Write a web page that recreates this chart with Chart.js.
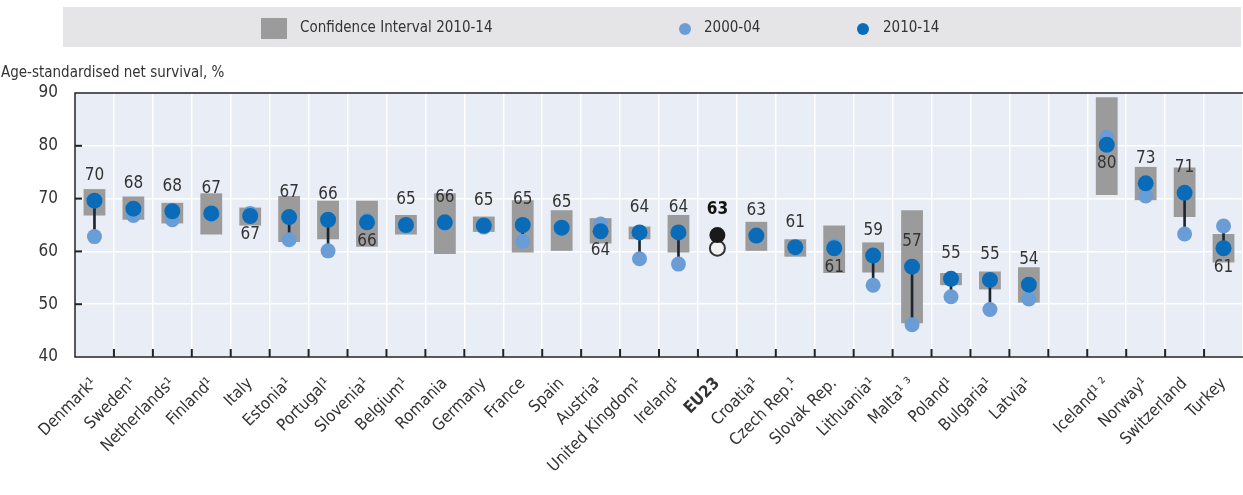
<!DOCTYPE html>
<html>
<head>
<meta charset="utf-8">
<script src="https://cdn.jsdelivr.net/npm/chart.js@4/dist/chart.umd.min.js"></script>
<style>
  html, body { margin: 0; padding: 0; background: #ffffff; }
  #wrap { position: relative; width: 1243px; height: 495px; }
  canvas { display: block; }
</style>
</head>
<body>
<div id="wrap"><canvas id="c" width="1243" height="495"></canvas></div>
<script>
const categories = [
  'Denmark¹', 'Sweden¹', 'Netherlands¹', 'Finland¹', 'Italy', 'Estonia¹', 'Portugal¹',
  'Slovenia¹', 'Belgium¹', 'Romania', 'Germany', 'France', 'Spain', 'Austria¹',
  'United Kingdom¹', 'Ireland¹', 'EU23', 'Croatia¹', 'Czech Rep.¹', 'Slovak Rep.',
  'Lithuania¹', 'Malta¹ ³', 'Poland¹', 'Bulgaria¹', 'Latvia¹', '',
  'Iceland¹ ²', 'Norway¹', 'Switzerland', 'Turkey'
];
const survival2010 = [
  69.6, 68.1, 67.6, 67.2, 66.7, 66.5, 66.0, 65.5, 65.0, 65.5, 64.9, 65.0, 64.5, 63.8,
  63.6, 63.6, 63.1, 63.0, 60.8, 60.6, 59.2, 57.1, 54.8, 54.6, 53.7, null,
  80.2, 72.9, 71.1, 60.6
];
const survival2000 = [
  62.8, 66.8, 66.0, 67.0, 67.2, 62.2, 60.1, 65.9, 64.8, 65.3, 64.6, 61.9, 64.3, 65.2,
  58.6, 57.6, 60.6, 62.8, 60.6, 61.0, 53.6, 46.1, 51.4, 49.0, 51.0, null,
  81.6, 70.5, 63.3, 64.8
];
const ciLow = [
  66.8, 66.0, 65.3, 63.2, 64.9, 61.8, 62.3, 60.9, 63.2, 59.5, 63.7, 59.8, 60.1, 61.5,
  62.3, 59.8, null, 60.1, 59.0, 55.9, 56.0, 46.4, 53.6, 52.8, 50.3, null,
  70.7, 69.7, 66.5, 57.9
];
const ciHigh = [
  71.8, 70.4, 69.2, 71.0, 68.3, 70.5, 69.6, 69.6, 66.9, 71.0, 66.6, 69.7, 67.8, 66.3,
  64.7, 66.9, null, 65.6, 62.3, 64.9, 61.7, 67.8, 55.9, 56.2, 57.0, null,
  89.2, 76.0, 75.9, 63.3
];
const yTicks = [40, 50, 60, 70, 80, 90];
const aggregateLabel = 'EU23';

const FONT = "'Liberation Sans Narrow', 'Arial Narrow', 'DejaVu Sans Condensed', 'Roboto Condensed', 'Liberation Sans', sans-serif";
const TXT = '#333333';
const DARK_BLUE = '#0a6cb8';
const LIGHT_BLUE = '#6a9dd6';
const CI_GREY = '#9b9b9b';

const isAgg = i => categories[i] === aggregateLabel;

const ciData = categories.map((c, i) => (ciLow[i] == null ? null : [ciLow[i], ciHigh[i]]));
const linkData = categories.map((c, i) => (survival2010[i] == null || survival2000[i] == null) ? null :
  [Math.min(survival2010[i], survival2000[i]), Math.max(survival2010[i], survival2000[i])]);

const backgroundPlugin = {
  id: 'bgAndLegend',
  beforeDraw(chart) {
    const { ctx, chartArea: a } = chart;
    ctx.save();
    ctx.fillStyle = '#ffffff';
    ctx.fillRect(0, 0, chart.width, chart.height);
    // plot background
    ctx.fillStyle = '#e9edf5';
    ctx.fillRect(a.left, a.top, a.right - a.left, a.bottom - a.top);
    // legend band
    ctx.fillStyle = '#e5e5e7';
    ctx.fillRect(63, 7, chart.width - 63 - 2, 40);
    ctx.font = "15px " + FONT;
    ctx.textBaseline = 'middle';
    ctx.textAlign = 'left';
    ctx.fillStyle = CI_GREY;
    ctx.fillRect(261, 18, 26, 21);
    ctx.fillStyle = TXT;
    ctx.fillText('Confidence Interval 2010-14', 300, 28);
    ctx.fillStyle = LIGHT_BLUE;
    ctx.beginPath(); ctx.arc(685, 29, 6, 0, Math.PI * 2); ctx.fill();
    ctx.fillStyle = TXT;
    ctx.fillText('2000-04', 704, 28);
    ctx.fillStyle = DARK_BLUE;
    ctx.beginPath(); ctx.arc(863, 29, 6, 0, Math.PI * 2); ctx.fill();
    ctx.fillStyle = TXT;
    ctx.fillText('2010-14', 883, 28);
    // axis title
    ctx.fillText('Age-standardised net survival, %', 1, 73);
    ctx.restore();
  },
  beforeDatasetsDraw(chart) {
    const { ctx, chartArea: a, scales } = chart;
    ctx.save();
    ctx.strokeStyle = '#222222';
    ctx.lineWidth = 1.5;
    ctx.beginPath();
    ctx.moveTo(chart.width, a.top); ctx.lineTo(a.left, a.top);
    ctx.lineTo(a.left, a.bottom); ctx.lineTo(a.right, a.bottom);
    ctx.stroke();
    // y tick marks inside
    ctx.lineWidth = 2;
    yTicks.slice(1, -1).forEach(v => {
      const y = scales.y.getPixelForValue(v);
      ctx.beginPath(); ctx.moveTo(a.left, y); ctx.lineTo(a.left + 7, y); ctx.stroke();
    });
    // x tick marks at category boundaries
    const x = scales.x;
    for (let i = 1; i < categories.length; i++) {
      const px = (x.getPixelForValue(i - 1) + x.getPixelForValue(i)) / 2;
      ctx.beginPath(); ctx.moveTo(px, a.bottom); ctx.lineTo(px, a.bottom - 8); ctx.stroke();
    }
    ctx.restore();
  },
  afterDatasetsDraw(chart) {
    const { ctx, scales } = chart;
    ctx.save();
    ctx.textAlign = 'center';
    ctx.textBaseline = 'middle';
    survival2010.forEach((v, i) => {
      if (v == null) return;
      const px = scales.x.getPixelForValue(i);
      const py = scales.y.getPixelForValue(v);
      const below = survival2000[i] != null && survival2000[i] > v;
      const ty = below ? py + 19 : py - 25;
      ctx.font = (isAgg(i) ? 'bold ' : '') + '17px ' + FONT;
      ctx.fillStyle = isAgg(i) ? '#111111' : TXT;
      ctx.fillText(String(Math.round(v)), px, ty);
    });
    ctx.restore();
  }
};

new Chart(document.getElementById('c'), {
  type: 'bar',
  data: {
    labels: categories,
    datasets: [
      {
        type: 'bar', label: 'Confidence Interval 2010-14', data: ciData,
        backgroundColor: CI_GREY, barPercentage: 0.56, categoryPercentage: 1,
        grouped: false, order: 4
      },
      {
        type: 'bar', label: 'change', data: linkData,
        backgroundColor: '#1c2733', barThickness: 2, grouped: false, order: 3
      },
      {
        type: 'line', label: '2000-04', data: survival2000, showLine: false,
        pointRadius: 7.5, pointHoverRadius: 7.5,
        pointBackgroundColor: categories.map((c, i) => isAgg(i) ? '#f2f2f2' : LIGHT_BLUE),
        pointBorderColor: categories.map((c, i) => isAgg(i) ? '#333333' : LIGHT_BLUE),
        pointBorderWidth: categories.map((c, i) => isAgg(i) ? 2 : 0),
        order: 2
      },
      {
        type: 'line', label: '2010-14', data: survival2010, showLine: false,
        pointRadius: 8, pointHoverRadius: 8,
        pointBackgroundColor: categories.map((c, i) => isAgg(i) ? '#1a1a1a' : DARK_BLUE),
        pointBorderWidth: 0,
        order: 1
      }
    ]
  },
  options: {
    responsive: false,
    animation: false,
    events: [],
    layout: { autoPadding: false, padding: { top: 93, right: 0, left: 0, bottom: 0 } },
    plugins: { legend: { display: false }, tooltip: { enabled: false }, title: { display: false } },
    scales: {
      x: {
        type: 'category', offset: true,
        grid: { color: '#ffffff', lineWidth: 1.5, offset: true, drawTicks: false },
        border: { display: false },
        ticks: {
          autoSkip: false, maxRotation: 45, minRotation: 45, padding: 17,
          color: TXT,
          font: (ctx) => ({ family: FONT, size: 16.5, weight: (ctx.tick && ctx.tick.label === aggregateLabel) ? 'bold' : 'normal' })
        },
        afterFit: (s) => { s.height = 138; s.paddingRight = 0; s.paddingLeft = 0; }
      },
      y: {
        min: 40, max: 90,
        afterBuildTicks: (s) => { s.ticks = yTicks.map(v => ({ value: v })); },
        grid: { color: '#ffffff', lineWidth: 1.5, drawTicks: false },
        border: { display: false },
        ticks: { color: TXT, padding: 17, font: { family: FONT, size: 17 } },
        afterFit: (s) => { s.width = 75; }
      }
    }
  },
  plugins: [backgroundPlugin]
});
</script>
</body>
</html>
